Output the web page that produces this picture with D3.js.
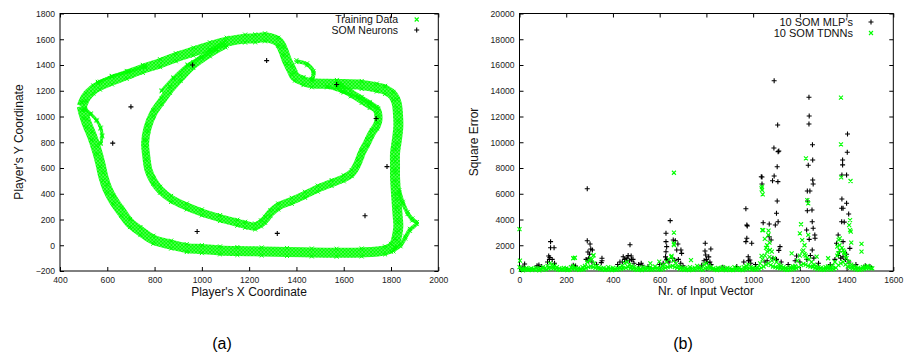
<!DOCTYPE html>
<html>
<head>
<meta charset="utf-8">
<script src="https://cdn.jsdelivr.net/npm/d3@7"></script>
<style>
  body { margin: 0; background: #fff; }
  svg text { font-family: "Liberation Sans", Arial, sans-serif; }
</style>
</head>
<body>
<svg id="chart" width="904" height="358"></svg>
<script>
"use strict";

// ---- panel (a): player track (x, y in field units)
const outerLap = [[492,1080],[510,1150],[541,1210],[569,1240],[620,1280],[682,1323],[750,1370],[823,1414],
  [890,1460],[964,1504],[1034,1545],[1105,1581],[1183,1605],[1225,1607],[1267,1615],[1323,1581],[1345,1510],
  [1359,1439],[1380,1360],[1394,1310],[1430,1275],[1465,1258],[1571,1253],[1676,1245],[1740,1225],[1775,1207],
  [1810,1160],[1824,1103],[1830,1000],[1831,922],[1825,820],[1817,715],[1817,620],[1817,534],[1820,430],
  [1824,327],[1828,230],[1831,146],[1825,70],[1817,17],[1800,-20],[1775,-40],[1676,-56],[1570,-58],[1465,-56],
  [1360,-52],[1253,-48],[1150,-45],[1077,-40],[1000,-30],[936,-22],[870,5],[795,43],[740,110],[696,172],
  [660,260],[625,353],[600,440],[583,534],[570,640],[555,741],[535,850],[513,948],[500,1020],[492,1080]];
const innerLap = [[1100,1560],[1034,1491],[964,1400],[910,1300],[865,1207],[830,1120],[795,1026],[770,910],
  [760,793],[765,690],[774,586],[795,500],[823,431],[870,360],[936,301],[1000,255],[1077,211],[1150,175],
  [1183,159],[1225,146],[1250,170],[1267,198],[1290,250],[1323,301],[1380,345],[1436,392],[1490,440],
  [1549,483],[1600,520],[1634,560],[1660,640],[1676,715],[1700,800],[1719,871],[1740,930],[1747,974],
  [1740,1051],[1710,1090],[1676,1129],[1630,1180],[1592,1219],[1571,1253]];
const topStray = [[560,1265],[620,1312],[690,1348],[760,1388]];
const leftBranch = [[505,1060],[530,1020],[555,970],[572,910],[578,850],[572,790]];
const innerStray = [[830,1200],[880,1300],[940,1400],[1000,1460],[1060,1520]];
const rightStray = [[1835,420],[1850,330],[1870,250],[1890,200],[1909,172],[1880,120],[1860,60],[1840,0],[1810,-40]];
const bumpStray = [[1400,1430],[1445,1405],[1472,1345],[1466,1285]];
const meshStray = [[1530,1230],[1600,1190],[1660,1150],[1710,1100],[1745,1060]];
const somNeurons = [[961,1400],[700,1075],[623,793],[980,107],[1274,1434],[1570,1248],[1737,984],[1783,611],[1690,229],[1319,92]];

// ---- panel (b): square error per input vector
const mlpPeaks = [[22,540],[83,470],[125,1170],[130,1050],[133,2280],[133,1810],[148,1810],[140,900],[290,6390],
  [290,2350],[302,2100],[305,1710],[312,1630],[293,1480],[300,1300],[296,1000],[353,990],[353,800],[473,2040],
  [444,1110],[478,1170],[465,1200],[486,900],[460,800],[430,700],[521,600],[627,2930],[627,2280],[630,1890],
  [627,1500],[625,1100],[632,800],[645,3910],[658,2410],[667,2350],[678,2100],[673,1630],[691,1630],[694,1370],
  [795,2150],[794,1550],[819,1710],[797,1240],[810,1100],[790,800],[969,4840],[973,3570],[975,3500],[969,2280],
  [973,2540],[994,2150],[986,850],[979,1110],[1035,7320],[1038,7300],[1038,6760],[1090,7380],[1083,7010],
  [1106,6940],[1103,8100],[1107,9270],[1110,9320],[1089,9550],[1090,14780],[1105,11340],[1103,5440],[1100,4480],
  [1107,3830],[1069,3650],[1043,3750],[1095,3570],[1069,2660],[1077,2410],[1115,1890],[1110,1600],[1186,1170],
  [1239,13490],[1240,12040],[1239,11420],[1254,9810],[1255,8620],[1236,8210],[1255,7070],[1257,6760],[1243,6210],
  [1232,6210],[1233,5440],[1232,4680],[1252,4740],[1253,3830],[1257,3320],[1229,3180],[1240,2460],[1264,2800],
  [1265,2540],[1253,1630],[1404,10640],[1403,9220],[1383,8620],[1383,8240],[1380,7460],[1400,7460],[1380,5590],
  [1400,5260],[1379,4870],[1409,4430],[1385,4870],[1379,3830],[1390,3800],[1364,2800],[1385,2280],[1414,1760],
  [1357,2150],[1385,1110],[1370,1500],[1400,1300]];
const mlpLow = [[15,300],[75,400],[95,350],[120,700],[128,900],[150,600],[230,450],[240,380],[285,900],[295,800],
  [310,700],[330,500],[350,650],[420,500],[440,700],[450,900],[460,1000],[470,800],[480,900],[490,600],[510,500],
  [525,450],[550,350],[600,500],[615,600],[630,900],[640,700],[655,1000],[665,800],[680,900],[690,600],[700,400],
  [780,450],[800,900],[805,650],[815,700],[820,500],[870,300],[930,350],[960,700],[980,800],[990,600],[1010,500],
  [1050,700],[1060,800],[1085,1000],[1100,900],[1120,700],[1150,500],[1180,800],[1200,700],[1230,900],[1245,1200],
  [1260,1000],[1280,600],[1330,500],[1350,900],[1365,1200],[1375,1000],[1395,900],[1410,700],[1440,500],
  [1480,400],[1500,350]];
const tdnnPeaks = [[0,3260],[2,800],[230,990],[237,1030],[317,1240],[316,1190],[305,1000],[598,720],[560,600],
  [661,7630],[661,2980],[660,2150],[661,2020],[651,1170],[734,850],[1036,6420],[1038,6550],[1038,6290],[1041,5960],
  [1039,3180],[1043,3180],[1065,2800],[1066,3130],[1072,1630],[1036,1170],[1060,2000],[1080,1500],[1050,2500],
  [1055,1800],[1070,2200],[1165,1370],[1205,3630],[1200,2930],[1226,8750],[1232,5510],[1236,5260],[1236,2800],
  [1220,2000],[1210,2400],[1215,1600],[1225,1200],[1272,1110],[1321,990],[1376,13460],[1376,9840],[1377,7280],
  [1417,6990],[1415,3960],[1411,3570],[1415,3180],[1418,3050],[1420,2200],[1371,2540],[1366,2410],[1364,1370],
  [1464,2100],[1464,1500],[1380,1800],[1390,1500],[1360,1900],[1370,2000],[1385,1600],[1395,1200]];
// low band, one reading every 10 input vectors (from 0) and a second one offset by 5
const tdnnBandA = [300,200,150,250,100,200,150,250,100,200, 300,250,400,600,500,400,300,200,150,250,
  200,100,300,400,250,200,150,300,400,700, 800,900,600,400,300,200,250,150,300,200,
  250,150,200,300,400,600,700,500,400,300, 200,250,150,300,200,250,300,200,350,250,
  200,400,500,700,900,1100,800,600,400,300, 200,250,150,300,200,250,400,300,200,500,
  600,400,300,200,150,250,200,300,150,250, 200,100,300,200,250,150,300,400,500,300,
  250,200,300,600,900,1200,1500,1100,800,1000, 700,500,400,300,250,200,300,350,400,800,
  1200,1500,1300,1000,900,700,500,400,300,250, 200,300,350,300,400,700,1200,1600,1800,1400,
  1000,700,500,400,300,250,200,300,350,400, 300,200];
const tdnnBandB = [100,50,150,80,120,60,100,150,50,100, 150,100,200,250,200,150,100,80,120,100,
  60,100,150,200,100,80,120,100,200,300, 350,300,250,200,150,100,80,120,100,60,
  100,80,120,150,200,250,300,200,150,100, 80,120,60,100,150,100,80,120,150,100,
  100,150,250,300,350,400,300,250,150,100, 80,120,60,100,80,120,150,100,80,200,
  250,200,150,100,60,100,80,120,60,100, 80,60,120,100,80,60,120,150,200,100,
  120,100,150,250,350,500,600,450,350,300, 250,200,150,100,80,100,120,150,200,300,
  450,550,500,400,350,300,200,150,120,100, 80,120,150,100,150,250,450,600,700,500,
  350,250,200,150,100,80,120,150,200,250, 200];

const green = "#00ff00";
const svg = d3.select("#chart");

const xL = d3.scaleLinear().domain([400, 2000]).range([60, 438.3]);
const yL = d3.scaleLinear().domain([-200, 1800]).range([271, 13.5]);
const xR = d3.scaleLinear().domain([0, 1600]).range([519.5, 893.3]);
const yR = d3.scaleLinear().domain([0, 20000]).range([271, 13.5]);

const plusPath = (x, y) => `M${x - 2.5},${y}h5M${x},${y - 2.5}v5`;
const crossPath = (x, y) => `M${x - 2},${y - 2}l4,4M${x + 2},${y - 2}l-4,4`;

// hatch of little x's, used to stroke the dense training-data bands
svg.append("defs")
  .append("pattern")
  .attr("id", "xhatch")
  .attr("patternUnits", "userSpaceOnUse")
  .attr("width", 3.5)
  .attr("height", 3.5)
  .append("path")
  .attr("d", "M0,0L3.5,3.5M3.5,0L0,3.5")
  .attr("stroke", green)
  .attr("stroke-width", 1.4)
;

function frame(x, y, xTicks, yTicks) {
  const g = svg.append("g");
  g.append("g")
    .attr("transform", `translate(0,${y.range()[0]})`)
    .call(d3.axisBottom(x).tickValues(xTicks).tickFormat(d3.format("d")).tickSize(-4).tickPadding(6));
  g.append("g")
    .attr("transform", `translate(${x.range()[0]},0)`)
    .call(d3.axisLeft(y).tickValues(yTicks).tickFormat(d3.format("d")).tickSize(-4).tickPadding(5));
  g.append("g")
    .attr("transform", `translate(0,${y.range()[1]})`)
    .call(d3.axisTop(x).tickValues(xTicks).tickSize(-4).tickFormat(""));
  g.append("g")
    .attr("transform", `translate(${x.range()[1]},0)`)
    .call(d3.axisRight(y).tickValues(yTicks).tickSize(-4).tickFormat(""));
  g.selectAll(".domain").remove();
  g.selectAll("text")
    .attr("font-family", "'Liberation Sans', Arial, sans-serif")
    .attr("font-size", 8.6)
    .attr("fill", "#222")
  ;
  g.append("rect")
    .attr("x", x.range()[0])
    .attr("y", y.range()[1])
    .attr("width", x.range()[1] - x.range()[0])
    .attr("height", y.range()[0] - y.range()[1])
    .attr("fill", "none")
    .attr("stroke", "#000")
  ;
  return g;
}

// ---------- panel (a)
frame(xL, yL, d3.range(400, 2001, 200), d3.range(-200, 1801, 200));

const trackLine = d3.line()
  .x(d => xL(d[0]))
  .y(d => yL(d[1]))
  .curve(d3.curveCatmullRom)
;
const strands = [
  { pts: outerLap, w: 10 },
  { pts: innerLap, w: 8 },
  { pts: topStray, w: 3 },
  { pts: leftBranch, w: 3 },
  { pts: innerStray, w: 3 },
  { pts: rightStray, w: 4 },
  { pts: bumpStray, w: 4 },
  { pts: meshStray, w: 3 }
];
const trackG = svg.append("g");
strands.forEach(s => {
  trackG.append("path")
    .attr("d", trackLine(s.pts))
    .attr("fill", "none")
    .attr("stroke", "url(#xhatch)")
    .attr("stroke-width", s.w)
    .attr("stroke-linejoin", "round")
  ;
  trackG.append("path")
    .attr("d", s.pts.map(d => crossPath(xL(d[0]), yL(d[1]) - s.w / 2 + 1)).join("")
      + s.pts.map(d => crossPath(xL(d[0]), yL(d[1]) + s.w / 2 - 1)).join(""))
    .attr("fill", "none")
    .attr("stroke", green)
    .attr("stroke-width", 1)
  ;
});

svg.append("path")
  .attr("d", somNeurons.map(d => plusPath(xL(d[0]), yL(d[1]))).join(""))
  .attr("fill", "none")
  .attr("stroke", "#000")
  .attr("stroke-width", 1.1)
;

// ---------- panel (b)
frame(xR, yR, d3.range(0, 1601, 200), d3.range(0, 20001, 2000));

const mlpAll = mlpLow.concat(mlpPeaks);
svg.append("path")
  .attr("d", mlpAll.map(d => plusPath(xR(d[0]), yR(d[1]))).join(""))
  .attr("fill", "none")
  .attr("stroke", "#000")
  .attr("stroke-width", 1.1)
;

const tdnnAll = tdnnBandA.map((v, i) => [i * 10, v])
  .concat(tdnnBandB.map((v, i) => [i * 10 + 5, v]))
  .concat(tdnnPeaks);
svg.append("path")
  .attr("d", tdnnAll.map(d => crossPath(xR(d[0]), yR(d[1]))).join(""))
  .attr("fill", "none")
  .attr("stroke", green)
  .attr("stroke-width", 1.1)
;

// ---------- titles, legends, captions
const label = (x, y, txt, size, rot, anchor) => svg.append("text")
  .attr("transform", `translate(${x},${y})` + (rot ? ` rotate(${rot})` : ""))
  .attr("text-anchor", anchor || "middle")
  .attr("font-size", size)
  .attr("fill", "#111")
  .text(txt)
;
label(249, 296, "Player's X Coordinate", 12);
label(23, 142, "Player's Y Coordinate", 12, -90);
label(706, 295, "Nr. of Input Vector", 12);
label(478, 142, "Square Error", 12, -90);

label(398, 22.5, "Training Data", 10.5, 0, "end");
label(398, 33.5, "SOM Neurons", 10.5, 0, "end");
svg.append("path").attr("d", crossPath(416.7, 19.5)).attr("stroke", green).attr("stroke-width", 1.1);
svg.append("path").attr("d", plusPath(416.7, 30)).attr("stroke", "#000").attr("stroke-width", 1.1);

label(853, 25.5, "10 SOM MLP's", 11, 0, "end");
label(853, 36.5, "10 SOM TDNNs", 11, 0, "end");
svg.append("path").attr("d", plusPath(871, 22)).attr("stroke", "#000").attr("stroke-width", 1.1);
svg.append("path").attr("d", crossPath(871, 33)).attr("stroke", green).attr("stroke-width", 1.1);

label(222, 349, "(a)", 16).attr("font-family", "'Liberation Serif', 'Times New Roman', serif").attr("fill", "#000");
label(683, 349, "(b)", 16).attr("font-family", "'Liberation Serif', 'Times New Roman', serif").attr("fill", "#000");
</script>
</body>
</html>
